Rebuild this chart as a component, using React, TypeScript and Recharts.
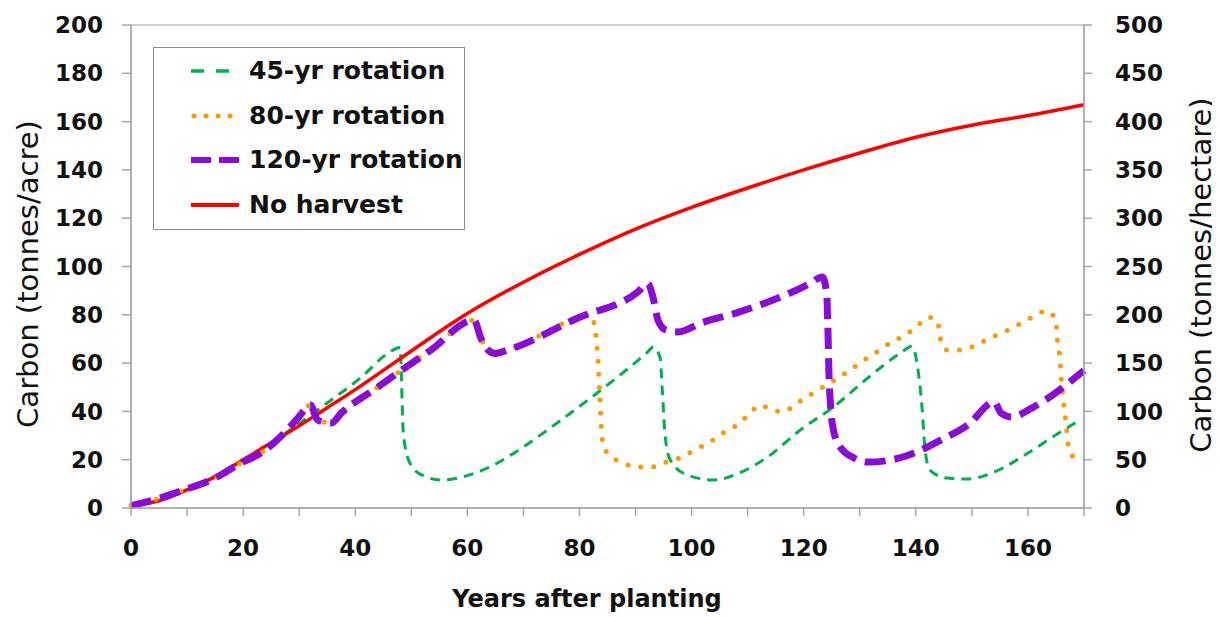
import { LineChart, Line, XAxis, YAxis, ReferenceArea, Label } from 'recharts';

const FONT = '"DejaVu Sans", Verdana, sans-serif';

const yearTicks = [0, 10, 20, 30, 40, 50, 60, 70, 80, 90, 100, 110, 120, 130, 140, 150, 160, 170];
const acreTicks = [0, 20, 40, 60, 80, 100, 120, 140, 160, 180, 200];
const hectareTicks = [0, 50, 100, 150, 200, 250, 300, 350, 400, 450, 500];

// No harvest
const noHarvestYears = [0, 5, 10, 15, 20, 25, 30, 35, 40, 45, 50, 55, 60, 70, 80, 90, 100, 110, 120, 130, 140, 150, 160, 170];
const noHarvestCarbon = [1, 3, 7.5, 13, 20, 27, 34, 41.5, 49, 57, 65, 73, 80.5, 93.5, 105, 115.5, 124.5, 132.5, 140, 147, 153.5, 158.5, 162.5, 167];

// 45-yr rotation
const rot45Years = [0, 5, 10, 15, 20, 25, 30, 35, 41, 45.8, 48, 48.6, 50, 52.5, 55.5, 59, 64, 70, 76, 81.5, 87.2, 92, 93.2, 94.4, 94.8, 95.3, 96.2, 99.2, 104, 108.7, 113.5, 119.4, 125.3, 131.4, 137.3, 139.3, 140.4, 141.1, 141.6, 142.5, 145.5, 149.2, 154, 160, 165.8, 169];
const rot45Carbon = [1, 3, 7.5, 13, 20, 27, 35, 43.5, 54, 64, 66.5, 30, 17.5, 13, 11.6, 12.8, 17, 25.3, 35.2, 44.7, 55, 64.2, 66.7, 62, 47.6, 29.4, 19.9, 13.7, 11.6, 14.7, 21, 32.3, 41.8, 53.8, 64.2, 67, 57, 41.8, 25.3, 15.7, 12.4, 12, 14.9, 22.8, 31.5, 36];

// 80-yr rotation
const rot80Years = [0, 5, 9.5, 14.3, 19.6, 23.2, 27.3, 29.8, 32, 33.3, 35.7, 37.5, 44, 47.6, 53.5, 61.2, 62.4, 63.7, 65, 67.2, 79.7, 82, 82.8, 83.3, 83.6, 84.1, 85, 87.5, 90.2, 92.8, 95.5, 98.2, 100.5, 103.3, 105.6, 108.1, 110.1, 112.2, 114.3, 116.3, 118.8, 121.1, 123.4, 125.8, 128.2, 130.6, 133, 135.4, 137.8, 140.1, 142.2, 143.9, 144.3, 145.5, 148.2, 150.8, 153.2, 155.8, 158.2, 160.8, 163.3, 165, 165.2, 165.6, 166, 166.3, 166.6, 166.9, 167.2, 168.4];
const rot80Carbon = [1, 4, 7.5, 11.6, 18.6, 22.8, 31, 37.3, 42.6, 36.4, 35.2, 39.3, 50, 56, 65.4, 77.8, 70.4, 65.4, 64, 65.4, 78.7, 80, 74, 61, 47.6, 28, 22.7, 19, 17, 17, 19, 21, 24, 27.3, 31, 34.4, 38.5, 42.6, 40.6, 39.8, 43.5, 46.8, 50, 53.4, 57, 61, 64.6, 68.3, 71.2, 75, 79, 77.4, 70.8, 65.4, 65.4, 67.5, 70.4, 72.9, 75.8, 79, 81.6, 77.8, 70.8, 64.6, 51.8, 44.7, 39, 32.3, 26, 20.3];

// 120-yr rotation
const rot120Years = [0, 5, 9.5, 14.3, 19.6, 23.2, 27.3, 29.8, 32, 33.3, 35.7, 37.5, 44, 47.6, 53.5, 61.2, 62.4, 63.7, 65, 67.2, 79.7, 90.4, 92.2, 93.1, 94, 95.4, 97.6, 101.7, 108.3, 121.3, 123.3, 124.1, 124.3, 124.5, 124.8, 125.3, 126.5, 129, 131.5, 135.6, 139.7, 144.5, 149.3, 154, 155.2, 157, 161, 170];
const rot120Carbon = [1, 4, 7.5, 11.6, 18.6, 22.8, 31, 37.3, 42.6, 36.4, 35.2, 39.3, 50, 56, 65.4, 77.8, 70.4, 65.4, 64, 65.4, 78.7, 89.4, 93, 87.4, 77.8, 73.7, 72.9, 76.6, 81, 93.2, 95.7, 89, 76, 56, 42, 32.3, 25.3, 20.7, 19, 19.9, 22.8, 28.2, 34.4, 43.9, 39.3, 37.7, 41.8, 57];

const toPoints = (years: number[], carbon: number[]) => years.map((year, i) => ({ year, carbon: carbon[i] }));

const series = [
    { name: '45-yr rotation', data: toPoints(rot45Years, rot45Carbon), color: '#00B050', width: 3, dash: '10 7', cap: 'butt' },
    { name: 'No harvest', data: toPoints(noHarvestYears, noHarvestCarbon), color: '#FF0000', width: 3.5, dash: undefined, cap: 'butt' },
    { name: '80-yr rotation', data: toPoints(rot80Years, rot80Carbon), color: '#FF9900', width: 5, dash: '0 13', cap: 'round' },
    { name: '120-yr rotation', data: toPoints(rot120Years, rot120Carbon), color: '#8A0AD6', width: 7, dash: '21 9', cap: 'butt' },
];

const legendItems = [
    { name: '45-yr rotation', color: '#00B050', width: 3.5, dash: '13 12', cap: 'butt' },
    { name: '80-yr rotation', color: '#FF9900', width: 5, dash: '0 12', cap: 'round' },
    { name: '120-yr rotation', color: '#8A0AD6', width: 6, dash: '20 8', cap: 'butt' },
    { name: 'No harvest', color: '#FF0000', width: 4, dash: undefined, cap: 'butt' },
];

const tickStyle = { fontFamily: FONT, fontSize: 23, fontWeight: 700, fill: '#111' };
const axisGray = '#A6A6A6';

function ChartLegend() {
    return (
        <div
            style={{
                position: 'absolute',
                left: 153,
                top: 47,
                width: 310,
                height: 181,
                border: '1.5px solid #8c8c8c',
                background: '#fff',
                fontFamily: FONT,
                fontWeight: 700,
                fontSize: 25,
                color: '#111',
            }}
        >
            {legendItems.map((item, i) => (
                <div key={item.name} style={{ position: 'absolute', left: 0, top: 23 + i * 44.7 - 17, height: 34, display: 'flex', alignItems: 'center' }}>
                    <svg width={95} height={34} style={{ display: 'block' }}>
                        <line x1={item.cap === 'round' ? 40 : 37} y1={17} x2={85} y2={17} stroke={item.color} strokeWidth={item.width} strokeDasharray={item.dash} strokeLinecap={item.cap as any} />
                    </svg>
                    <span style={{ whiteSpace: 'nowrap', lineHeight: '34px' }}>{item.name}</span>
                </div>
            ))}
        </div>
    );
}

export default function App() {
    return (
        <div style={{ position: 'relative', width: 1220, height: 617, margin: '-8px 0 0 -8px' }}>
            <LineChart width={1220} height={617} margin={{ top: 25, right: 0, bottom: 0, left: 0 }}>
                <XAxis
                    dataKey="year"
                    type="number"
                    domain={[0, 170]}
                    ticks={yearTicks}
                    interval={0}
                    tickFormatter={(v) => (v % 20 === 0 && v <= 160 ? String(v) : '')}
                    height={109}
                    tickSize={8}
                    tickMargin={24}
                    tick={tickStyle}
                    axisLine={{ stroke: axisGray, strokeWidth: 1.5 }}
                    tickLine={{ stroke: axisGray, strokeWidth: 1.5 }}
                >
                    <Label
                        content={() => (
                            <text x={587} y={607} textAnchor="middle" fontFamily={FONT} fontSize={24} fontWeight={700} fill="#111">
                                Years after planting
                            </text>
                        )}
                    />
                </XAxis>
                <YAxis
                    yAxisId="left"
                    domain={[0, 200]}
                    ticks={acreTicks}
                    interval={0}
                    width={131}
                    tickSize={9}
                    tickMargin={19}
                    tick={tickStyle}
                    axisLine={{ stroke: axisGray, strokeWidth: 1.5 }}
                    tickLine={{ stroke: axisGray, strokeWidth: 1.5 }}
                >
                    <Label
                        content={() => (
                            <text x={28} y={274} transform="rotate(-90 28 274)" textAnchor="middle" dominantBaseline="central" fontFamily={FONT} fontSize={29} fill="#111">
                                Carbon (tonnes/acre)
                            </text>
                        )}
                    />
                </YAxis>
                <YAxis
                    yAxisId="right"
                    orientation="right"
                    domain={[0, 500]}
                    ticks={hectareTicks}
                    interval={0}
                    width={136}
                    tickSize={8}
                    tickMargin={23}
                    tick={tickStyle}
                    axisLine={{ stroke: axisGray, strokeWidth: 1.5 }}
                    tickLine={{ stroke: axisGray, strokeWidth: 1.5 }}
                >
                    <Label
                        content={() => (
                            <text x={1201} y={275} transform="rotate(-90 1201 275)" textAnchor="middle" dominantBaseline="central" fontFamily={FONT} fontSize={29} fill="#111">
                                Carbon (tonnes/hectare)
                            </text>
                        )}
                    />
                </YAxis>
                <ReferenceArea yAxisId="right" x1={0} x2={170} y1={0} y2={500} ifOverflow="extendDomain" fill="none" stroke="#BFBFBF" strokeWidth={1.5} />
                {series.map((s) => (
                    <Line
                        key={s.name}
                        yAxisId="left"
                        data={s.data}
                        dataKey="carbon"
                        name={s.name}
                        type="monotone"
                        stroke={s.color}
                        strokeWidth={s.width}
                        strokeDasharray={s.dash}
                        strokeLinecap={s.cap as any}
                        dot={false}
                        activeDot={false}
                        isAnimationActive={false}
                    />
                ))}
            </LineChart>
            <ChartLegend />
        </div>
    );
}
